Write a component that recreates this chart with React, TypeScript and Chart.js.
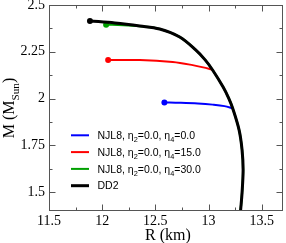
import React, { useEffect, useRef } from 'react';
import { Chart, registerables } from 'chart.js';
Chart.register(...registerables);

const X_TICKS = [11.5, 12, 12.5, 13, 13.5];
const Y_TICKS = [1.5, 1.75, 2, 2.25, 2.5];
const X_RANGE = [11.5, 13.7];
const Y_RANGE = [1.4, 2.5];

const X_TITLE = 'R (km)';
const Y_TITLE = 'M (M_{Sun})';

const SERIES_NAMES = [
  'NJL8, η_2=0.0, η_4=0.0',
  'NJL8, η_2=0.0, η_4=15.0',
  'NJL8, η_2=0.0, η_4=30.0',
  'DD2',
];
const SERIES_COLORS = ['#0000ff', '#ff0000', '#00a000', '#000000'];

const BLUE_R = [12.585, 12.729, 12.9, 13.038, 13.15, 13.226];
const BLUE_M = [1.98, 1.978, 1.974, 1.968, 1.96, 1.948];

const RED_R = [12.056, 12.354, 12.663, 12.851, 12.95, 13.03];
const RED_M = [2.206, 2.206, 2.195, 2.179, 2.167, 2.155];

const GREEN_R = [12.037, 12.2, 12.354, 12.541, 12.729, 12.879, 12.968, 13.038, 13.137, 13.189, 13.226, 13.287, 13.315, 13.325, 13.315, 13.301];
const GREEN_M = [2.395, 2.393, 2.387, 2.372, 2.329, 2.26, 2.207, 2.153, 2.062, 2.003, 1.95, 1.833, 1.727, 1.62, 1.497, 1.401];

const DD2_R = [11.885, 12.119, 12.354, 12.541, 12.729, 12.879, 12.968, 13.038, 13.137, 13.189, 13.226, 13.287, 13.315, 13.325, 13.315, 13.301];
const DD2_M = [2.415, 2.404, 2.388, 2.372, 2.329, 2.26, 2.207, 2.153, 2.062, 2.003, 1.95, 1.833, 1.727, 1.62, 1.497, 1.401];

const SERIF = "'Liberation Serif', 'Times New Roman', serif";
const SANS = "'Liberation Sans', Arial, sans-serif";

function drawRich(ctx: CanvasRenderingContext2D, text: string, x: number, y: number, size: number, family: string, draw = true): number {
  const parts = text.split(/_(\{[^}]*\}|.)/);
  parts.forEach((p, i) => {
    if (i % 2 === 1) {
      const s = p.replace(/[{}]/g, '');
      ctx.font = `${size * 0.7}px ${family}`;
      if (draw) ctx.fillText(s, x, y + size * 0.3);
      x += ctx.measureText(s).width;
    } else {
      ctx.font = `${size}px ${family}`;
      if (draw) ctx.fillText(p, x, y);
      x += ctx.measureText(p).width;
    }
  });
  return x;
}

const framePlugin = {
  id: 'frameTicks',
  afterDraw(chart: any) {
    const { ctx, chartArea } = chart;
    const { left, right, top, bottom } = chartArea;
    const xs = chart.scales.x;
    const ys = chart.scales.y;
    ctx.save();
    ctx.strokeStyle = '#555';
    ctx.lineWidth = 1;
    const L = Math.round(left) + 0.5, R = Math.round(right) - 0.5, T = Math.round(top) + 0.5, B = Math.round(bottom) - 0.5;
    ctx.strokeRect(L, T, R - L, B - T);
    const xt: [number, number][] = [];
    X_TICKS.forEach((v, i) => {
      xt.push([v, 6]);
      if (i < X_TICKS.length - 1) xt.push([(v + X_TICKS[i + 1]) / 2, 3]);
    });
    const yt: [number, number][] = [];
    Y_TICKS.forEach((v, i) => {
      yt.push([v, 6]);
      if (i < Y_TICKS.length - 1) yt.push([(v + Y_TICKS[i + 1]) / 2, 3]);
    });
    ctx.beginPath();
    xt.forEach(([v, len]) => {
      const px = Math.round(xs.getPixelForValue(v)) + 0.5;
      ctx.moveTo(px, T); ctx.lineTo(px, T + len);
      ctx.moveTo(px, B); ctx.lineTo(px, B - len);
    });
    yt.forEach(([v, len]) => {
      const py = Math.round(ys.getPixelForValue(v)) + 0.5;
      ctx.moveTo(L, py); ctx.lineTo(L + len, py);
      ctx.moveTo(R, py); ctx.lineTo(R - len, py);
    });
    ctx.stroke();

    ctx.fillStyle = '#000';
    ctx.textBaseline = 'alphabetic';
    ctx.textAlign = 'center';
    ctx.font = `16px ${SERIF}`;
    ctx.fillText(X_TITLE, (left + right) / 2 + 2, 239.5);
    ctx.textAlign = 'left';
    const w = drawRich(ctx, Y_TITLE, 0, 0, 16, SERIF, false);
    ctx.translate(14, (top + bottom) / 2);
    ctx.rotate(-Math.PI / 2);
    drawRich(ctx, Y_TITLE, -w / 2, 0, 16, SERIF, true);
    ctx.restore();
  },
};

const legendPlugin = {
  id: 'richLegend',
  afterDatasetsDraw(chart: any) {
    const { ctx, chartArea } = chart;
    ctx.save();
    SERIES_NAMES.forEach((name, i) => {
      const y = chartArea.top + 130.3 + i * 16.8;
      ctx.strokeStyle = SERIES_COLORS[i];
      ctx.lineWidth = i === 3 ? 3 : 2;
      ctx.beginPath();
      ctx.moveTo(chartArea.left + 22, y);
      ctx.lineTo(chartArea.left + 40, y);
      ctx.stroke();
      ctx.fillStyle = '#000';
      ctx.textBaseline = 'alphabetic';
      ctx.textAlign = 'left';
      drawRich(ctx, name, chartArea.left + 48.5, y + 3.7, 10.5, SANS, true);
    });
    ctx.restore();
  },
};

function pts(xs: number[], ys: number[]) {
  return xs.map((x, i) => ({ x, y: ys[i] }));
}

export default function App() {
  const ref = useRef<HTMLCanvasElement | null>(null);
  useEffect(() => {
    if (!ref.current) return;
    const mk = (i: number, r: number[], m: number[], width: number, order: number) => ({
      label: SERIES_NAMES[i].replace(/_/g, ''),
      data: pts(r, m),
      borderColor: SERIES_COLORS[i],
      backgroundColor: SERIES_COLORS[i],
      borderWidth: width,
      tension: 0.35,
      pointRadius: (c: any) => (c.dataIndex === 0 ? 3 : 0),
      pointBorderWidth: 0,
      pointHoverRadius: 0,
      fill: false,
      order,
    });
    const chart = new Chart(ref.current, {
      type: 'line',
      data: {
        datasets: [
          mk(0, BLUE_R, BLUE_M, 2, 2),
          mk(1, RED_R, RED_M, 2, 2),
          mk(2, GREEN_R, GREEN_M, 2.2, 1),
          mk(3, DD2_R, DD2_M, 3, 0),
        ],
      },
      options: {
        responsive: false,
        animation: false,
        layout: { padding: { left: 0, top: 5, right: 2.5, bottom: 0 } },
        plugins: { legend: { display: false }, tooltip: { enabled: false } },
        scales: {
          x: {
            type: 'linear',
            min: X_RANGE[0],
            max: X_RANGE[1],
            grid: { display: false, drawTicks: false },
            border: { display: false },
            afterBuildTicks: (s: any) => { s.ticks = X_TICKS.map((v) => ({ value: v })); },
            afterFit: (s: any) => { s.height = 32; s.paddingLeft = 0; s.paddingRight = 0; s.paddingTop = 0; s.paddingBottom = 0; },
            ticks: {
              padding: 2,
              color: '#000',
              font: { family: SERIF, size: 14 },
              maxRotation: 0,
              autoSkip: false,
              callback: (v: any) => String(v),
            },
          },
          y: {
            type: 'linear',
            min: Y_RANGE[0],
            max: Y_RANGE[1],
            grid: { display: false, drawTicks: false },
            border: { display: false },
            afterBuildTicks: (s: any) => { s.ticks = Y_TICKS.map((v) => ({ value: v })); },
            afterFit: (s: any) => { s.width = 49; s.paddingLeft = 0; s.paddingRight = 0; s.paddingTop = 0; s.paddingBottom = 0; },
            ticks: {
              padding: 4,
              color: '#000',
              font: { family: SERIF, size: 14 },
              autoSkip: false,
              callback: (v: any) => String(v),
            },
          },
        },
      },
      plugins: [legendPlugin, framePlugin],
    });
    return () => chart.destroy();
  }, []);
  return (
    <div style={{ position: 'fixed', left: 0, top: 0, width: 286, height: 243, background: '#fff' }}>
      <canvas ref={ref} width={286} height={243} style={{ width: 286, height: 243, display: 'block' }} />
    </div>
  );
}
